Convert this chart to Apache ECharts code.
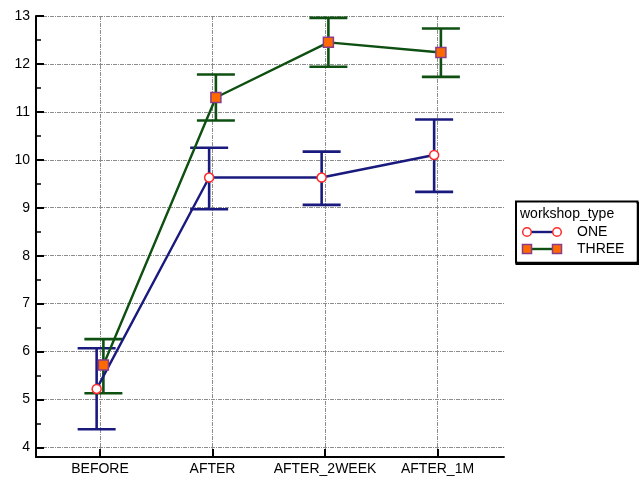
<!DOCTYPE html>
<html>
<head>
<meta charset="utf-8">
<script src="https://cdn.jsdelivr.net/npm/echarts@6/dist/echarts.min.js"></script>
<style>html,body{margin:0;padding:0;background:#fff}#c{width:640px;height:477px}</style>
</head>
<body>
<div id="c"></div>
<script>
var categories = ['BEFORE', 'AFTER', 'AFTER_2WEEK', 'AFTER_1M'];
var seriesNames = ['ONE', 'THREE'];
var oneMean  = [5.22, 9.63, 9.63, 10.10];
var oneLow   = [4.38, 8.97, 9.06, 9.33];
var oneHigh  = [6.07, 10.25, 10.17, 10.84];
var threeMean = [5.72, 11.30, 12.45, 12.24];
var threeLow  = [5.13, 10.82, 11.94, 11.73];
var threeHigh = [6.26, 11.78, 12.96, 12.74];
var yTicks = [4, 5, 6, 7, 8, 9, 10, 11, 12, 13];
var yMinorTicks = [4.5, 5.5, 6.5, 7.5, 8.5, 9.5, 10.5, 11.5, 12.5];
var xTicks = [0, 1, 2, 3];

var FONT = "'Liberation Sans', Arial, sans-serif";
var NAVY = '#1a1a7e';
var GREEN = '#0e4f12';
var dodge = 0.03;

function pts(vals, off) { return vals.map(function (v, i) { return [i + off, v]; }); }
function bars(lo, hi, off) { return lo.map(function (v, i) { return [i + off, v, hi[i]]; }); }

function errRender(color) {
  return function (params, api) {
    var x = api.value(0);
    var pLo = api.coord([x, api.value(1)]);
    var pHi = api.coord([x, api.value(2)]);
    var hw = 19;
    var st = { stroke: color, lineWidth: 2.6 };
    return { type: 'group', children: [
      { type: 'line', shape: { x1: pLo[0], y1: pLo[1], x2: pHi[0], y2: pHi[1] }, style: st },
      { type: 'line', shape: { x1: pLo[0] - hw, y1: pLo[1], x2: pLo[0] + hw, y2: pLo[1] }, style: st },
      { type: 'line', shape: { x1: pHi[0] - hw, y1: pHi[1], x2: pHi[0] + hw, y2: pHi[1] }, style: st }
    ]};
  };
}

var gridLine = { show: true, lineStyle: { color: '#8c8c8c', width: 1, type: [4, 1, 1, 1] } };

var chart = echarts.init(document.getElementById('c'), null, { renderer: 'canvas' });
chart.setOption({
  animation: false,
  backgroundColor: '#fff',
  grid: { left: 36, top: 16, width: 468, height: 441 },
  xAxis: {
    type: 'value', min: -0.569, max: 3.591,
    axisLine: { onZero: false, lineStyle: { color: '#000', width: 2 } },
    axisTick: { inside: true, length: 8, customValues: xTicks, lineStyle: { color: '#000', width: 2 } },
    axisLabel: { customValues: xTicks, margin: 5, color: '#000', fontFamily: FONT, fontSize: 14,
      formatter: function (v) { return categories[Math.round(v)]; } },
    splitLine: gridLine
  },
  yAxis: [{
    type: 'value', min: 3.8, max: 13,
    axisLine: { show: true, onZero: false, lineStyle: { color: '#000', width: 2 } },
    axisTick: { inside: true, length: 8, customValues: yTicks, lineStyle: { color: '#000', width: 2 } },
    axisLabel: { customValues: yTicks, margin: 6, color: '#000', fontFamily: FONT, fontSize: 14 },
    splitLine: gridLine
  }, {
    type: 'value', min: 3.8, max: 13, position: 'left', offset: 0,
    axisLine: { show: false, onZero: false },
    axisTick: { inside: true, length: 5, customValues: yMinorTicks, lineStyle: { color: '#000', width: 1.5 } },
    axisLabel: { show: false },
    splitLine: { show: false }
  }],
  series: [
    { type: 'custom', name: seriesNames[0] + ' err', renderItem: errRender(NAVY), data: bars(oneLow, oneHigh, -dodge), z: 2 },
    { type: 'custom', name: seriesNames[1] + ' err', renderItem: errRender(GREEN), data: bars(threeLow, threeHigh, dodge), z: 2 },
    { type: 'line', name: seriesNames[0], data: pts(oneMean, -dodge), z: 3,
      symbol: 'circle', symbolSize: 9,
      lineStyle: { color: NAVY, width: 2.4 },
      itemStyle: { color: '#fff', borderColor: '#ff2a2a', borderWidth: 1.5 } },
    { type: 'line', name: seriesNames[1], data: pts(threeMean, dodge), z: 4,
      symbol: 'rect', symbolSize: 10,
      lineStyle: { color: GREEN, width: 2.4 },
      itemStyle: { color: '#ff6a00', borderColor: '#8a3c8a', borderWidth: 1.5 } }
  ],
  graphic: [
    { type: 'rect', shape: { x: 516, y: 201.5, width: 121.5, height: 61 },
      style: { fill: '#fff', stroke: '#000', lineWidth: 2, shadowColor: '#000', shadowOffsetX: 0.5, shadowOffsetY: 1.5 } },
    { type: 'rect', shape: { x: 517, y: 202.5, width: 119.5, height: 59 }, style: { fill: '#fff' } },
    { type: 'text', x: 520, y: 214, style: { text: 'workshop_type', fill: '#000', font: '14px ' + FONT, verticalAlign: 'middle' } },
    { type: 'line', shape: { x1: 527, y1: 232, x2: 557, y2: 232 }, style: { stroke: NAVY, lineWidth: 2.4 } },
    { type: 'circle', shape: { cx: 527, cy: 232, r: 4.3 }, style: { fill: '#fff', stroke: '#ff2a2a', lineWidth: 1.5 } },
    { type: 'circle', shape: { cx: 557, cy: 232, r: 4.3 }, style: { fill: '#fff', stroke: '#ff2a2a', lineWidth: 1.5 } },
    { type: 'text', x: 577, y: 232, style: { text: seriesNames[0], fill: '#000', font: '14px ' + FONT, verticalAlign: 'middle' } },
    { type: 'line', shape: { x1: 527, y1: 249, x2: 557, y2: 249 }, style: { stroke: GREEN, lineWidth: 2.4 } },
    { type: 'rect', shape: { x: 522.5, y: 244.5, width: 9, height: 9 }, style: { fill: '#ff6a00', stroke: '#8a3c8a', lineWidth: 1.5 } },
    { type: 'rect', shape: { x: 552.5, y: 244.5, width: 9, height: 9 }, style: { fill: '#ff6a00', stroke: '#8a3c8a', lineWidth: 1.5 } },
    { type: 'text', x: 577, y: 249, style: { text: seriesNames[1], fill: '#000', font: '14px ' + FONT, verticalAlign: 'middle' } }
  ]
});
</script>
</body>
</html>
